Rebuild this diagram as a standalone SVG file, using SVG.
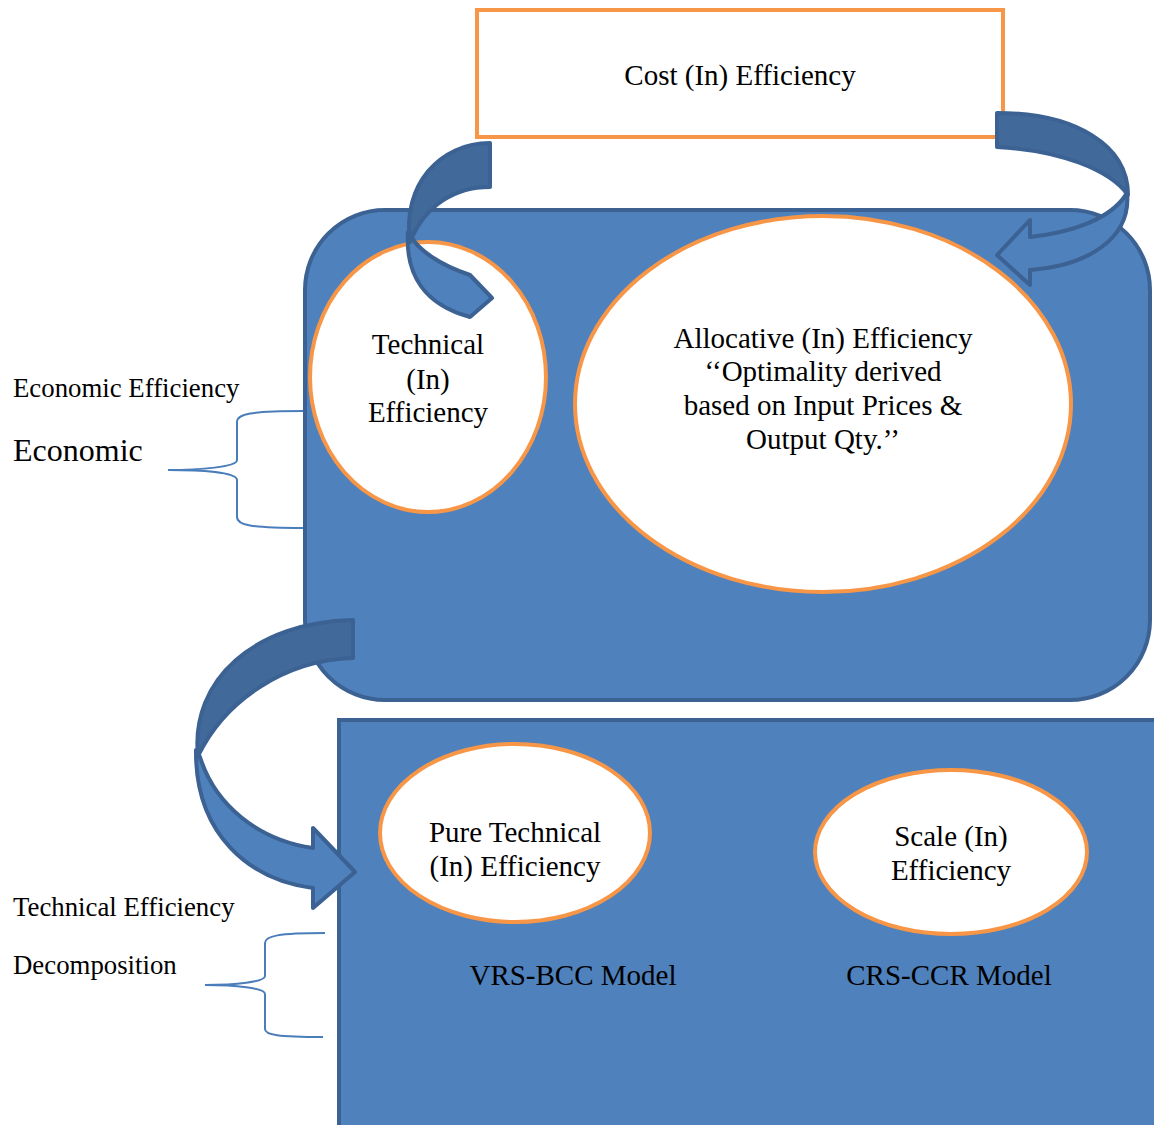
<svg xmlns="http://www.w3.org/2000/svg" width="1154" height="1125" viewBox="0 0 1154 1125">
<style>
.panel{fill:#4f81bd;stroke:#3b6292;stroke-width:4}
.oval{fill:#ffffff;stroke:#f79646;stroke-width:4}
.t{font-family:"Liberation Serif",serif;font-size:29px;fill:#000;text-anchor:middle}
.l{font-family:"Liberation Serif",serif;font-size:26.8px;fill:#000}
.arrD{fill:#41699a;stroke:#3b6292;stroke-width:4;stroke-linejoin:round}
.arrL{fill:#4f81bd;stroke:#3b6292;stroke-width:4;stroke-linejoin:round}
.brace{fill:none;stroke:#4a7ebb;stroke-width:2}
</style>
<rect width="1154" height="1125" fill="#ffffff"/>
<g id="cost">
<rect x="477" y="10" width="526" height="127" fill="#ffffff" stroke="#f79646" stroke-width="4"/>
<text class="t" x="740" y="85">Cost (In) Efficiency</text>
</g>
<g id="economic-panel">
<rect class="panel" x="305" y="210" width="845" height="490" rx="80" ry="80"/>
</g>
<g id="technical">
<ellipse class="oval" cx="428" cy="377" rx="118" ry="135"/>
<text class="t" x="428" y="354">Technical</text>
<text class="t" x="428" y="389">(In)</text>
<text class="t" x="428" y="422">Efficiency</text>
</g>
<g id="allocative">
<ellipse class="oval" cx="823" cy="404" rx="248" ry="188"/>
<text class="t" x="823" y="348">Allocative (In) Efficiency</text>
<text class="t" x="823" y="381">‘‘Optimality derived</text>
<text class="t" x="823" y="415">based on Input Prices &amp;</text>
<text class="t" x="823" y="449">Output Qty.’’</text>
</g>
<g id="decomposition-panel">
<rect class="panel" x="339" y="720" width="830" height="430"/>
</g>
<g id="pure-technical">
<ellipse class="oval" cx="515" cy="833" rx="135" ry="89"/>
<text class="t" x="515" y="842">Pure Technical</text>
<text class="t" x="515" y="876">(In) Efficiency</text>
</g>
<g id="scale">
<ellipse class="oval" cx="951" cy="852" rx="136" ry="82"/>
<text class="t" x="951" y="846">Scale (In)</text>
<text class="t" x="951" y="880">Efficiency</text>
</g>
<g id="models">
<text class="t" x="573" y="985">VRS-BCC Model</text>
<text class="t" x="949" y="985">CRS-CCR Model</text>
</g>
<g id="labels">
<text class="l" x="13" y="397">Economic Efficiency</text>
<text class="l" x="13" y="461" style="font-size:32px">Economic</text>
<text class="l" x="13" y="916">Technical Efficiency</text>
<text class="l" x="13" y="974">Decomposition</text>
</g>
<g id="connectors">
<!-- arrow 1: cost -> technical -->
<path class="arrL" d="M 408,232 C 405,275 425,305 470,317 L 492,298 L 470,275 C 440,265 418,250 411,236 Z"/>
<path class="arrD" d="M 490,143 L 490,187 C 455,187 425,205 410,242 C 402,185 440,143 490,143 Z"/>
<!-- arrow 2: cost -> allocative -->
<path class="arrL" d="M 1127,192 C 1132,240 1085,266 1030,270 L 1030,285 L 997,255 L 1030,220 L 1030,237 C 1075,232 1110,218 1125,196 Z"/>
<path class="arrD" d="M 997,113 C 1075,113 1128,145 1128,195 C 1110,170 1060,150 997,147 Z"/>
<!-- arrow 3: economic -> decomposition -->
<path class="arrL" d="M 196,750 C 195,835 250,880 313,888 L 313,908 L 355,872 L 313,828 L 313,848 C 258,840 215,805 200,757 Z"/>
<path class="arrD" d="M 353,620 L 353,658 C 285,660 225,700 198,756 C 190,680 255,622 353,620 Z"/>
<!-- braces -->
<path class="brace" d="M 303,411 C 250,411 237,414 237,422 L 237,460 C 237,467 200,470 168,470 C 200,470 237,472 237,480 L 237,517 C 237,525 250,528 303,528"/>
<path class="brace" d="M 325,933 C 278,933 265,936 265,943 L 265,976 C 265,982 235,985 205,985 C 235,985 265,988 265,994 L 265,1029 C 265,1035 278,1037 323,1037"/>
</g>
</svg>
